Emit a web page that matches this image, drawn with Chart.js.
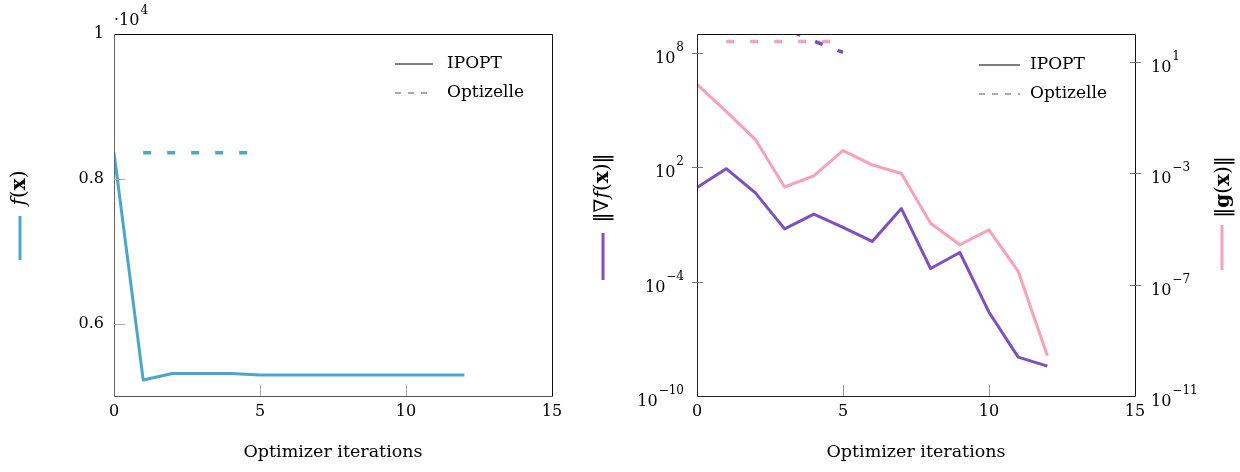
<!DOCTYPE html>
<html>
<head>
<meta charset="utf-8">
<script src="https://cdn.jsdelivr.net/npm/chart.js@4.4.1/dist/chart.umd.min.js"></script>
<style>
html, body { margin: 0; padding: 0; background: #fff; }
#wrap { position: relative; width: 1240px; height: 472px; }
.box { position: absolute; top: 0; height: 472px; }
canvas { display: block; }
</style>
</head>
<body>
<div id="wrap">
  <div class="box" style="left:0;width:580px"><canvas id="fChart" width="580" height="472"></canvas></div>
  <div class="box" style="left:580px;width:660px"><canvas id="gChart" width="660" height="472"></canvas></div>
</div>
<script>
// iterations
var iters = [0, 1, 2, 3, 4, 5, 6, 7, 8, 9, 10, 11, 12];
var optIters = [1, 2, 3, 4, 5];

// objective f(x)
var fIpopt = [8360, 5220, 5310, 5310, 5310, 5290, 5290, 5290, 5290, 5290, 5290, 5290, 5290];
var fOptizelle = [8360, 8360, 8360, 8360, 8360];

// gradient norm
var gradIpopt = [8.7, 85, 4.6, 0.059, 0.35, 0.071, 0.013, 0.69, 4.9e-4, 3.4e-3, 2.5e-6, 1.1e-8, 3.7e-9];
var gradOptizelle = [3.2e10, 7.9e9, 2.0e9, 4.3e8, 1.07e8];

// constraint norm
var consIpopt = [1.55, 0.166, 0.0162, 3.2e-4, 8.1e-4, 6.5e-3, 2.0e-3, 9.8e-4, 1.6e-5, 2.7e-6, 9.3e-6, 3.0e-7, 2.8e-10];
var consOptizelle = [54, 54, 54, 54, 54];

// ticks
var xTicks = [0, 5, 10, 15];
var fTicks = [6000, 8000, 10000];
var fTickLabels = ['0.6', '0.8', '1'];
var gradTicks = [1e-10, 1e-4, 1e2, 1e8];
var gradExps = ['−10', '−4', '2', '8'];
var consTicks = [1e-11, 1e-7, 1e-3, 1e1];
var consExps = ['−11', '−7', '−3', '1'];

var blue = '#4aa5cf';
var purple = '#7f4fc0';
var pink = '#f9a1b6';
var serif = 'DejaVu Serif';

Chart.defaults.font.family = serif;
Chart.defaults.font.size = 16;
Chart.defaults.color = '#000';

function pts(xs, ys) {
  return xs.map(function (x, i) { return { x: x, y: ys[i] }; });
}

function setTicks(list) {
  return function (scale) { scale.ticks = list.map(function (v) { return { value: v }; }); };
}

function fixWidth(w) { return function (scale) { scale.width = w; }; }
function fixHeight(h) { return function (scale) { scale.height = h; }; }

function xScale() {
  return {
    type: 'linear', min: 0, max: 15,
    afterBuildTicks: setTicks(xTicks),
    afterFit: fixHeight(76),
    grid: { display: false, drawTicks: false },
    border: { display: false },
    ticks: { padding: 6, maxRotation: 0, callback: function (v) { return v; } },
    title: { display: true, text: 'Optimizer iterations', padding: { top: 0, bottom: 9 }, font: { size: 17.5 } }
  };
}

// "10" with a raised exponent, centred on a tick
function powLabel(ctx, exp, x, y, align) {
  ctx.save();
  ctx.fillStyle = '#000';
  ctx.textBaseline = 'alphabetic';
  ctx.textAlign = 'left';
  ctx.font = '16px "' + serif + '"';
  var wb = ctx.measureText('10').width;
  ctx.font = '12px "' + serif + '"';
  var we = ctx.measureText(exp).width;
  var x0 = align === 'right' ? x - wb - we - 1 : x;
  ctx.font = '16px "' + serif + '"';
  ctx.fillText('10', x0, y + 10);
  ctx.font = '12px "' + serif + '"';
  ctx.fillText(exp, x0 + wb + 1, y - 2);
  ctx.restore();
}

function drawParts(ctx, parts, cx, cy) {
  ctx.save();
  ctx.translate(cx, cy);
  ctx.rotate(-Math.PI / 2);
  ctx.textBaseline = 'middle';
  ctx.textAlign = 'left';
  ctx.fillStyle = '#000';
  var total = 0;
  parts.forEach(function (p) {
    ctx.font = p[1] + ' 20px "' + serif + '"';
    p.w = ctx.measureText(p[0]).width;
    total += p.w;
  });
  var x = -total / 2;
  parts.forEach(function (p) {
    ctx.font = p[1] + ' 20px "' + serif + '"';
    ctx.fillText(p[0], x, 0);
    x += p.w;
  });
  ctx.restore();
}

function drawLegend(ctx, x0, x1, tx, y1, y2) {
  ctx.save();
  ctx.strokeStyle = '#000';
  ctx.lineWidth = 1;
  ctx.beginPath(); ctx.moveTo(x0, y1); ctx.lineTo(x1, y1); ctx.stroke();
  ctx.strokeStyle = '#555';
  ctx.setLineDash([6, 7]);
  ctx.beginPath(); ctx.moveTo(x0, y2); ctx.lineTo(x1, y2); ctx.stroke();
  ctx.setLineDash([]);
  ctx.fillStyle = '#000';
  ctx.font = '17px "' + serif + '"';
  ctx.textBaseline = 'middle';
  ctx.textAlign = 'left';
  ctx.fillText('IPOPT', tx, y1);
  ctx.fillText('Optizelle', tx, y2);
  ctx.restore();
}

function tickMarks(ctx, scale, vals, horiz, a, b, color) {
  ctx.save();
  ctx.strokeStyle = color;
  ctx.lineWidth = 1;
  vals.forEach(function (v) {
    var p = Math.round(scale.getPixelForValue(v)) + 0.5;
    ctx.beginPath();
    if (horiz) { ctx.moveTo(p, a); ctx.lineTo(p, b); }
    else { ctx.moveTo(a, p); ctx.lineTo(b, p); }
    ctx.stroke();
  });
  ctx.restore();
}

function frame(ctx, area, leftCol, botCol) {
  var l = Math.round(area.left) + 0.5, r = Math.round(area.right) + 0.5;
  var t = Math.round(area.top) + 0.5, b = Math.round(area.bottom) + 0.5;
  ctx.save();
  ctx.lineWidth = 1;
  ctx.strokeStyle = '#111';
  ctx.beginPath(); ctx.moveTo(l, t); ctx.lineTo(r, t); ctx.lineTo(r, b); ctx.stroke();
  ctx.strokeStyle = leftCol;
  ctx.beginPath(); ctx.moveTo(l, t); ctx.lineTo(l, b); ctx.stroke();
  ctx.strokeStyle = botCol;
  ctx.beginPath(); ctx.moveTo(l, b); ctx.lineTo(r, b); ctx.stroke();
  ctx.restore();
}

// left chart: objective
new Chart(document.getElementById('fChart'), {
  type: 'line',
  data: {
    datasets: [
      { label: 'IPOPT', data: pts(iters, fIpopt), borderColor: blue, borderWidth: 3 },
      { label: 'Optizelle', data: pts(optIters, fOptizelle), borderColor: blue, borderWidth: 3.5, borderDash: [8, 16], borderCapStyle: 'butt' }
    ]
  },
  options: {
    responsive: false,
    animation: false,
    devicePixelRatio: 1,
    layout: { padding: { left: 0, right: 28, top: 34, bottom: 0 } },
    elements: { point: { radius: 0 }, line: { tension: 0, borderJoinStyle: 'round' } },
    plugins: { legend: { display: false }, tooltip: { enabled: false } },
    scales: {
      x: xScale(),
      y: {
        type: 'linear', min: 5000, max: 10000,
        afterBuildTicks: setTicks(fTicks),
        afterFit: fixWidth(114),
        grid: { display: false, drawTicks: false },
        border: { display: false },
        ticks: { padding: 10, callback: function (v, i) { return fTickLabels[i]; } }
      }
    }
  },
  plugins: [{
    id: 'deco',
    afterDraw: function (chart) {
      var ctx = chart.ctx, a = chart.chartArea;
      frame(ctx, a, '#666', '#555');
      tickMarks(ctx, chart.scales.x, [5, 10], true, a.bottom - 11, a.bottom, '#aaa');
      tickMarks(ctx, chart.scales.y, [6000, 8000], false, a.left, a.left + 11, '#aaa');
      drawLegend(ctx, 395, 433, 447, 64, 93);
      ctx.save();
      ctx.fillStyle = '#000';
      ctx.textBaseline = 'alphabetic';
      ctx.font = '16px "' + serif + '"';
      ctx.fillText('·10', 114, 25);
      var w = ctx.measureText('·10').width;
      ctx.font = '12px "' + serif + '"';
      ctx.fillText('4', 115 + w, 14);
      ctx.restore();
      drawParts(ctx, [['f', 'italic'], ['(', 'normal'], ['x', 'bold'], [')', 'normal']], 20, 188);
      ctx.fillStyle = blue;
      ctx.fillRect(18.5, 216, 3, 44);
    }
  }]
});

// right chart: gradient and constraint norms
new Chart(document.getElementById('gChart'), {
  type: 'line',
  data: {
    datasets: [
      { label: 'IPOPT grad', data: pts(iters, gradIpopt), borderColor: purple, borderWidth: 3, yAxisID: 'y' },
      { label: 'Optizelle grad', data: pts(optIters, gradOptizelle), borderColor: purple, borderWidth: 3.5, borderDash: [8, 16], yAxisID: 'y' },
      { label: 'IPOPT cons', data: pts(iters, consIpopt), borderColor: pink, borderWidth: 3, yAxisID: 'y2' },
      { label: 'Optizelle cons', data: pts(optIters, consOptizelle), borderColor: pink, borderWidth: 3.5, borderDash: [8, 16], yAxisID: 'y2' }
    ]
  },
  options: {
    responsive: false,
    animation: false,
    devicePixelRatio: 1,
    layout: { padding: { left: 0, right: 0, top: 34, bottom: 0 } },
    elements: { point: { radius: 0 }, line: { tension: 0, borderJoinStyle: 'round' } },
    plugins: { legend: { display: false }, tooltip: { enabled: false } },
    scales: {
      x: xScale(),
      y: {
        type: 'logarithmic', position: 'left', min: 1e-10, max: 1e9,
        afterBuildTicks: setTicks(gradTicks),
        afterFit: fixWidth(117),
        grid: { display: false, drawTicks: false },
        border: { display: false },
        ticks: { display: false }
      },
      y2: {
        type: 'logarithmic', position: 'right', min: 1e-11, max: 1e2,
        afterBuildTicks: setTicks(consTicks),
        afterFit: fixWidth(105),
        grid: { display: false, drawTicks: false },
        border: { display: false },
        ticks: { display: false }
      }
    }
  },
  plugins: [{
    id: 'deco',
    afterDraw: function (chart) {
      var ctx = chart.ctx, a = chart.chartArea;
      var sy = chart.scales.y, sy2 = chart.scales.y2;
      frame(ctx, a, '#222', '#222');
      tickMarks(ctx, chart.scales.x, [5, 10], true, a.bottom - 11, a.bottom, '#999');
      tickMarks(ctx, sy, [1e-4, 1e2, 1e8], false, a.left - 5, a.left + 6, '#777');
      tickMarks(ctx, sy2, [1e-7, 1e-3, 1e1], false, a.right - 5, a.right + 6, '#777');
      gradTicks.forEach(function (v, i) { powLabel(ctx, gradExps[i], a.left - 13, sy.getPixelForValue(v), 'right'); });
      consTicks.forEach(function (v, i) { powLabel(ctx, consExps[i], a.right + 16, sy2.getPixelForValue(v), 'left'); });
      drawLegend(ctx, 979 - 580, 1020 - 580, 1030 - 580, 65, 94);
      drawParts(ctx, [['‖∇', 'normal'], ['f', 'italic'], ['(', 'normal'], ['x', 'bold'], [')‖', 'normal']], 603 - 580, 188);
      drawParts(ctx, [['‖', 'normal'], ['g', 'bold'], ['(', 'normal'], ['x', 'bold'], [')‖', 'normal']], 1224 - 580, 187);
      ctx.fillStyle = purple;
      ctx.fillRect(603 - 580 - 1.5, 233, 3, 47);
      ctx.fillStyle = pink;
      ctx.fillRect(1222 - 580 - 1.5, 225, 3, 45);
    }
  }]
});
</script>
</body>
</html>
